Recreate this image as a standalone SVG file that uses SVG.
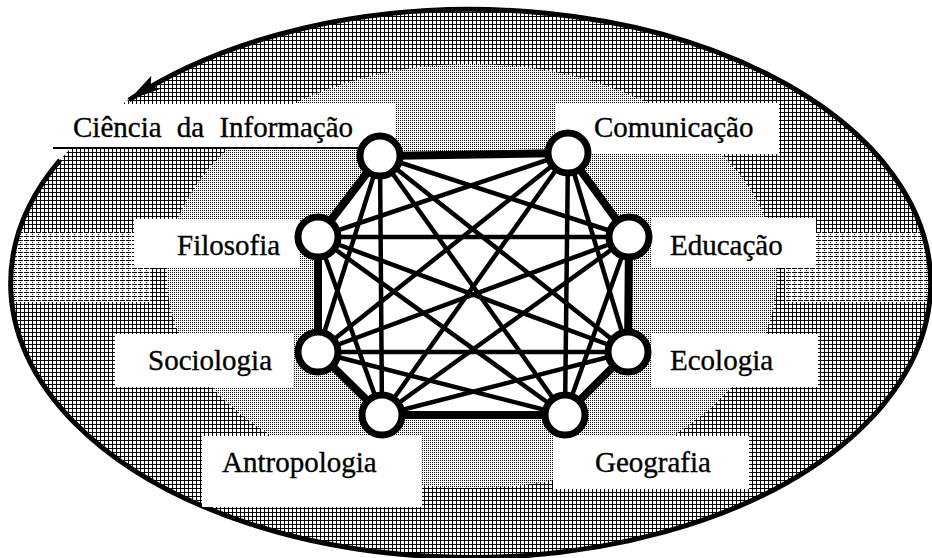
<svg xmlns="http://www.w3.org/2000/svg" width="932" height="558" viewBox="0 0 932 558">
<style>
.lbl{font-family:"Liberation Serif","Times New Roman",serif;font-size:29px;fill:#000;stroke:#000;stroke-width:0.35}
.box{fill:#fff}
.node{fill:#fff;stroke:#000;stroke-width:7}
.thick{stroke:#000;stroke-width:8;stroke-linecap:round}
.thin{stroke:#000;stroke-width:4.5}
</style>
<defs>
<pattern id="grid" width="4" height="4" patternUnits="userSpaceOnUse">
<rect width="4" height="4" fill="#fff"/>
<rect width="4" height="1" fill="#000"/>
<rect width="1" height="4" fill="#000"/>
</pattern>
<pattern id="dots" width="2" height="2" patternUnits="userSpaceOnUse">
<rect width="2" height="2" fill="#fff"/>
<rect width="1" height="1" fill="#000"/>
</pattern>
<pattern id="streak" width="6" height="4" patternUnits="userSpaceOnUse">
<rect width="6" height="4" fill="#fff"/>
<rect width="5" height="1" fill="#000"/>
<rect x="2" y="2" width="1" height="1" fill="#000"/>
</pattern>
<clipPath id="ell"><ellipse cx="472" cy="282" rx="460" ry="274"/></clipPath>
<marker id="arr" markerUnits="userSpaceOnUse" markerWidth="40" markerHeight="30" refX="34" refY="12" orient="auto">
<path d="M34,12 L2,4 L8,12 L2,20 Z" fill="#000"/>
</marker>
</defs>

<g id="background">
<ellipse cx="472" cy="282" rx="460" ry="274" fill="url(#grid)"/>
<ellipse cx="472" cy="276" rx="305" ry="212" fill="url(#dots)"/>
<g clip-path="url(#ell)">
<rect x="0" y="232" width="150" height="70" fill="url(#streak)"/>
<rect x="785" y="232" width="150" height="70" fill="url(#streak)"/>
</g>
<polygon points="380,156 568,153 629,237 628,352 565,415 382,415 318,352 318,237" fill="#fff"/>
<path d="M60,160 A460,274 0 1 0 129,100" fill="none" stroke="#000" stroke-width="5" marker-end="url(#arr)"/>
</g>

<g id="boxes">
<rect class="box" x="48" y="104" width="347" height="44"/>
<rect class="box" x="556" y="103" width="223" height="51"/>
<rect class="box" x="134" y="219" width="166" height="49"/>
<rect class="box" x="651" y="218" width="165" height="50"/>
<rect class="box" x="115" y="334" width="178" height="53"/>
<rect class="box" x="651" y="334" width="167" height="53"/>
<rect class="box" x="202" y="436" width="220" height="71"/>
<rect class="box" x="553" y="436" width="196" height="53"/>
<line x1="53" y1="148" x2="358" y2="148" stroke="#000" stroke-width="2"/>
</g>

<g id="connectors">
<line class="thick" x1="380" y1="156" x2="568" y2="153"/>
<line class="thick" x1="568" y1="153" x2="629" y2="237"/>
<line class="thick" x1="629" y1="237" x2="628" y2="352"/>
<line class="thick" x1="628" y1="352" x2="565" y2="415"/>
<line class="thick" x1="565" y1="415" x2="382" y2="415"/>
<line class="thick" x1="382" y1="415" x2="318" y2="352"/>
<line class="thick" x1="318" y1="352" x2="318" y2="237"/>
<line class="thick" x1="318" y1="237" x2="380" y2="156"/>
<line class="thin" x1="380" y1="156" x2="629" y2="237"/>
<line class="thin" x1="380" y1="156" x2="318" y2="352"/>
<line class="thin" x1="380" y1="156" x2="628" y2="352"/>
<line class="thin" x1="380" y1="156" x2="382" y2="415"/>
<line class="thin" x1="380" y1="156" x2="565" y2="415"/>
<line class="thin" x1="568" y1="153" x2="318" y2="237"/>
<line class="thin" x1="568" y1="153" x2="318" y2="352"/>
<line class="thin" x1="568" y1="153" x2="628" y2="352"/>
<line class="thin" x1="568" y1="153" x2="382" y2="415"/>
<line class="thin" x1="568" y1="153" x2="565" y2="415"/>
<line class="thin" x1="318" y1="237" x2="629" y2="237"/>
<line class="thin" x1="318" y1="237" x2="628" y2="352"/>
<line class="thin" x1="318" y1="237" x2="382" y2="415"/>
<line class="thin" x1="318" y1="237" x2="565" y2="415"/>
<line class="thin" x1="629" y1="237" x2="318" y2="352"/>
<line class="thin" x1="629" y1="237" x2="382" y2="415"/>
<line class="thin" x1="629" y1="237" x2="565" y2="415"/>
<line class="thin" x1="318" y1="352" x2="628" y2="352"/>
<line class="thin" x1="318" y1="352" x2="565" y2="415"/>
<line class="thin" x1="628" y1="352" x2="382" y2="415"/>
</g>

<g id="ciencia"><circle class="node" cx="380" cy="156" r="20"/><text class="lbl" x="73" y="137" word-spacing="8">Ciência da Informação</text></g>
<g id="comunicacao"><circle class="node" cx="568" cy="153" r="20"/><text class="lbl" x="594" y="137">Comunicação</text></g>
<g id="filosofia"><circle class="node" cx="318" cy="237" r="20"/><text class="lbl" x="177" y="255">Filosofia</text></g>
<g id="educacao"><circle class="node" cx="629" cy="237" r="20"/><text class="lbl" x="670" y="255">Educação</text></g>
<g id="sociologia"><circle class="node" cx="318" cy="352" r="20"/><text class="lbl" x="148" y="370">Sociologia</text></g>
<g id="ecologia"><circle class="node" cx="628" cy="352" r="20"/><text class="lbl" x="670" y="370">Ecologia</text></g>
<g id="antropologia"><circle class="node" cx="382" cy="415" r="20"/><text class="lbl" x="222" y="472">Antropologia</text></g>
<g id="geografia"><circle class="node" cx="565" cy="415" r="20"/><text class="lbl" x="595" y="472">Geografia</text></g>
</svg>
